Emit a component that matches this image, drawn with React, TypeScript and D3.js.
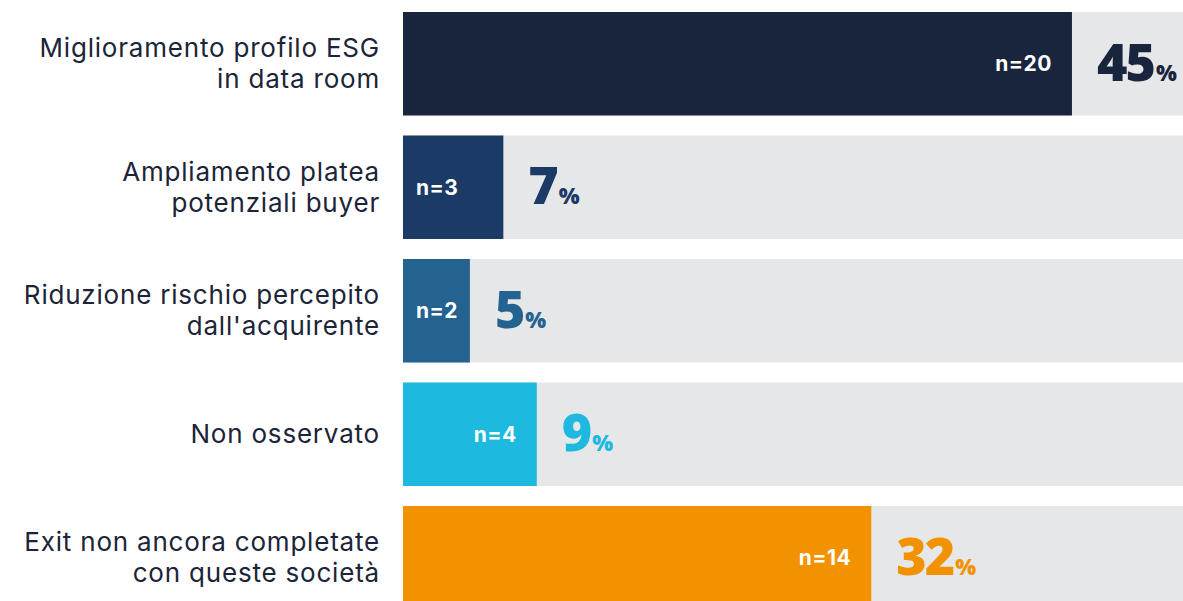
import React from "react";
import * as d3 from "d3";

const categories: string[][] = [
  ["Miglioramento profilo ESG", "in data room"],
  ["Ampliamento platea", "potenziali buyer"],
  ["Riduzione rischio percepito", "dall'acquirente"],
  ["Non osservato"],
  ["Exit non ancora completate", "con queste società"],
];
const counts: number[] = [20, 3, 2, 4, 14];
const percents: number[] = [45, 7, 5, 9, 32];
const colors: string[] = ["#19243d", "#1b3a66", "#24628f", "#1db9de", "#f39200"];

const W = 1183;
const H = 601;
const trackX0 = 403;
const trackX1 = 1183;
const labelFont = "Inter, sans-serif";
const nFont = "Inter, sans-serif";
const numFont = "'Open Sans', sans-serif";

export default function App() {
  const ids = categories.map((_, i) => String(i));
  const y = d3.scaleBand<string>().domain(ids).range([12, 609.5]).paddingInner(20 / 123.5).paddingOuter(0);
  const x = d3.scaleLinear().domain([0, 23.32]).range([trackX0, trackX1]);

  return (
    <svg width={W} height={H} style={{ position: "absolute", left: 0, top: 0, background: "#fff" }}>
      {ids.map((id, i) => {
        const y0 = y(id)!;
        const bh = y.bandwidth();
        const cy = y0 + bh / 2;
        const xe = x(counts[i]);
        const lines = categories[i];
        const nText = `n=${counts[i]}`;
        const nearStart = xe - trackX0 < 110;
        return (
          <g key={id}>
            <rect x={trackX0} y={y0} width={trackX1 - trackX0} height={bh} fill="#e6e7e9" />
            <rect x={trackX0} y={y0} width={xe - trackX0} height={bh} fill={colors[i]} />
            {lines.map((ln, j) => (
              <text
                key={j}
                x={380}
                y={cy + 9 + (j - (lines.length - 1) / 2) * 31}
                textAnchor="end"
                fontFamily={labelFont}
                fontSize={26}
                letterSpacing={0.8}
                fill="#1c2437"
              >
                {ln}
              </text>
            ))}
            <text
              x={nearStart ? trackX0 + 13 : xe - 20}
              y={cy + 7.5}
              textAnchor={nearStart ? "start" : "end"}
              fontFamily={nFont}
              fontWeight={700}
              fontSize={21}
              letterSpacing={0.5}
              fill="#ffffff"
            >
              {nText}
            </text>
            <text x={xe + 25} y={cy + 17} fontFamily={numFont} fontWeight={800} fill={colors[i]}>
              <tspan fontSize={52} letterSpacing={-2}>{percents[i]}</tspan>
              <tspan fontSize={22} dx={2}>%</tspan>
            </text>
          </g>
        );
      })}
    </svg>
  );
}
